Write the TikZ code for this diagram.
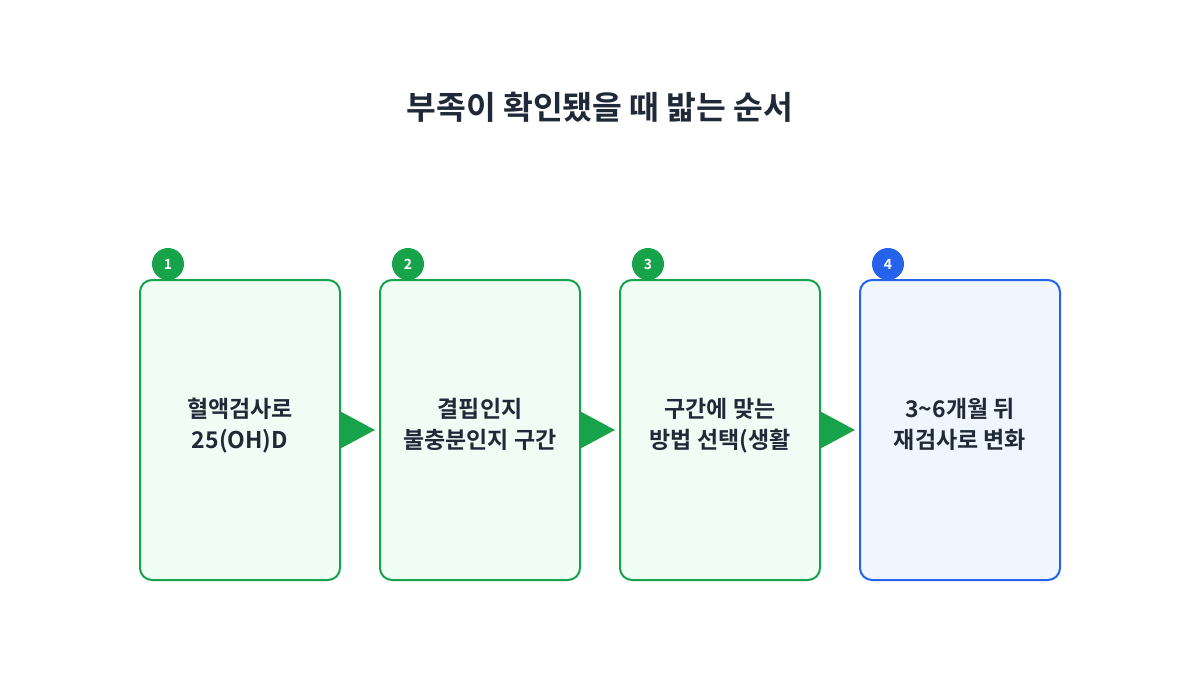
\documentclass[tikz,border=0pt]{standalone}
\usepackage{fontspec}
\setmainfont{Noto Sans CJK KR}[BoldFont={* Bold}]
\usetikzlibrary{arrows.meta,positioning}
\definecolor{stepgreen}{HTML}{16A34A}
\definecolor{stepgreenfill}{HTML}{F0FDF4}
\definecolor{stepblue}{HTML}{2563EB}
\definecolor{stepbluefill}{HTML}{EFF6FF}
\definecolor{inkdark}{HTML}{1F2937}
\newcommand{\liftpad}{\\[-8.5pt]\mbox{}}
\tikzset{
	stepbox/.style={draw=stepgreen, fill=stepgreenfill, line width=1pt, rounded corners=6pt,
		minimum width=100pt, minimum height=150pt, align=center, text=inkdark,
		font=\bfseries\fontsize{11.5}{15.5}\selectfont},
	laststep/.style={stepbox, draw=stepblue, fill=stepbluefill},
	badge/.style={circle, fill=stepgreen, minimum size=16pt, inner sep=0pt, text=white,
		font=\bfseries\fontsize{7}{8}\selectfont},
	flow/.style={-{Triangle[length=17pt,width=18pt]}, stepgreen, line width=1pt, shorten >=2pt}
}
\begin{document}
\begin{tikzpicture}[x=0.5pt, y=-0.5pt]
	\useasboundingbox (0,0) rectangle (1200,675);

	\node[font=\bfseries\fontsize{16.2}{19}\selectfont, text=inkdark] (title) at (600,107) {부족이 확인됐을 때 밟는 순서};

	\node[stepbox] (s1) at (240,430) {혈액검사로\\25(OH)D\liftpad};
	\node[stepbox] (s2) at (480,430) {결핍인지\\불충분인지 구간\liftpad};
	\node[stepbox] (s3) at (720,430) {구간에 맞는\\방법 선택(생활\liftpad};
	\node[laststep] (s4) at (960,430) {3\textasciitilde6개월 뒤\\재검사로 변화\liftpad};

	\node[badge] (b1) at (168,264) {1};
	\node[badge] (b2) at (408,264) {2};
	\node[badge] (b3) at (648,264) {3};
	\node[badge, fill=stepblue] (b4) at (888,264) {4};

	\draw[flow] (s1) -- (s2);
	\draw[flow] (s2) -- (s3);
	\draw[flow] (s3) -- (s4);
\end{tikzpicture}
\end{document}
